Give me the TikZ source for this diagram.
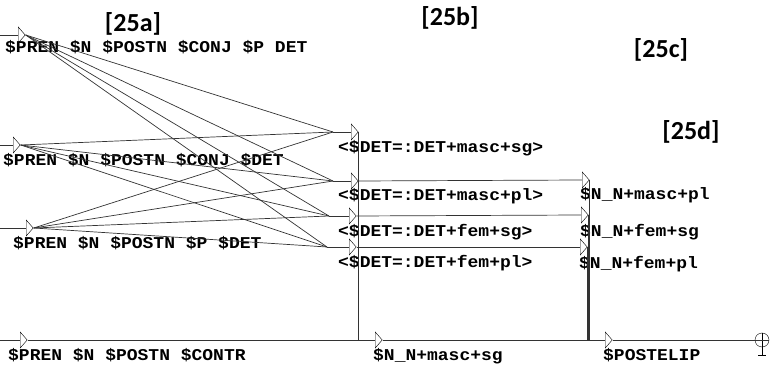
\documentclass[tikz,border=0pt]{standalone}
\usepackage{fontspec}
\newfontfamily\grffont[FakeStretch=1.09]{Liberation Mono}
\newfontfamily\tagfont{Carlito}
\usetikzlibrary{shapes.geometric}

\begin{document}
\begin{tikzpicture}[x=1pt,y=-1pt]

\tikzset{box/.style = {shape=isosceles triangle, draw, inner sep=0pt, isosceles triangle stretches, minimum width=16pt, minimum height=7pt}}
\tikzset{lbl/.style = {anchor=base west, inner sep=0pt, font=\grffont\bfseries\fontsize{16.5}{18}\selectfont}}
\tikzset{tag/.style = {font=\tagfont\bfseries\fontsize{26}{30}\selectfont}}
\tikzset{edge/.style = {line width=0.7pt, black!80}}

\useasboundingbox (0,0) rectangle (772,366);

% tags
\node[tag] (t25a) at (133,24) {[25a]};
\node[tag] (t25b) at (450,18) {[25b]};
\node[tag] (t25c) at (661,50) {[25c]};
\node[tag] (t25d) at (691,132) {[25d]};

% start boxes
\node[box, anchor=west] (a) at (18,35) {};
\node[box, anchor=west] (b) at (13,145) {};
\node[box, anchor=west] (c) at (26,228) {};
\node[box, anchor=west] (d) at (20,340) {};
\node[lbl] (a-txt) at (5,53) {\$PREN \$N \$POSTN \$CONJ \$P DET};
\node[lbl] (b-txt) at (3,166) {\$PREN \$N \$POSTN \$CONJ \$DET};
\node[lbl] (c-txt) at (13,249) {\$PREN \$N \$POSTN \$P \$DET};
\node[lbl] (d-txt) at (8,361) {\$PREN \$N \$POSTN \$CONTR};

% determiners
\node[box, anchor=west] (dms) at (351,132) {};
\node[box, anchor=west] (dmp) at (351,181) {};
\node[box, anchor=west] (dfs) at (349,216) {};
\node[box, anchor=west] (dfp) at (349,247) {};
\coordinate (dms-in) at (333,132);
\coordinate (dmp-in) at (333,181);
\coordinate (dfs-in) at (329,216);
\coordinate (dfp-in) at (327,247);
\node[lbl] (dms-txt) at (338,153) {<\$DET=:DET+masc+sg>};
\node[lbl] (dmp-txt) at (338,201) {<\$DET=:DET+masc+pl>};
\node[lbl] (dfs-txt) at (338,237) {<\$DET=:DET+fem+sg>};
\node[lbl] (dfp-txt) at (338,268) {<\$DET=:DET+fem+pl>};

% nouns
\node[box, anchor=west] (nms) at (375,340) {};
\node[box, anchor=west] (nmp) at (582,180) {};
\node[box, anchor=west] (nfs) at (581,215) {};
\node[box, anchor=west] (nfp) at (580,247) {};
\node[lbl] (nms-txt) at (373,361) {\$N\_N+masc+sg};
\node[lbl] (nmp-txt) at (580,200) {\$N\_N+masc+pl};
\node[lbl] (nfs-txt) at (580,237) {\$N\_N+fem+sg};
\node[lbl] (nfp-txt) at (579,269) {\$N\_N+fem+pl};

% post
\node[box, anchor=west] (pos) at (605,340) {};
\node[lbl] (pos-txt) at (603,361) {\$POSTELIP};

% final state
\node[draw, circle, inner sep=0pt, minimum size=14pt] (fin) at (762,340) {};
\draw (fin.north) -- (762,355);
\draw (758,355) -- (766,355);

% initial edges
\coordinate (ia) at (0,35);
\coordinate (ib) at (0,145);
\coordinate (ic) at (0,228);
\coordinate (id) at (0,340);
\draw[edge] (ia) -- (a.west);
\draw[edge] (ib) -- (b.west);
\draw[edge] (ic) -- (c.west);
\draw[edge] (id) -- (d.west);

%edges to determiners
\foreach \s in {a,b,c}
  \foreach \t in {dms,dmp,dfs,dfp}
    \draw[edge] (\s.apex) -- (\t-in);
\foreach \t in {dms,dmp,dfs,dfp}
  \draw[edge] (\t-in) -- (\t.west);

%edges to nouns
\draw[edge] (d.apex) -- (nms.west);
\draw[edge] (dms.apex) |- (nms.west);
\draw[edge] (dmp.apex) -- (nmp.west);
\draw[edge] (dfs.apex) -- (nfs.west);
\draw[edge] (dfp.apex) -- (nfp.west);

%edges to post and end
\draw[edge] (nms.apex) -- (pos.west);
\foreach \t in {nmp,nfs,nfp}
  \draw[edge] (\t.apex) |- (pos.west);
\draw[edge] (pos.apex) -- (fin.east);
\end{tikzpicture}
\end{document}
